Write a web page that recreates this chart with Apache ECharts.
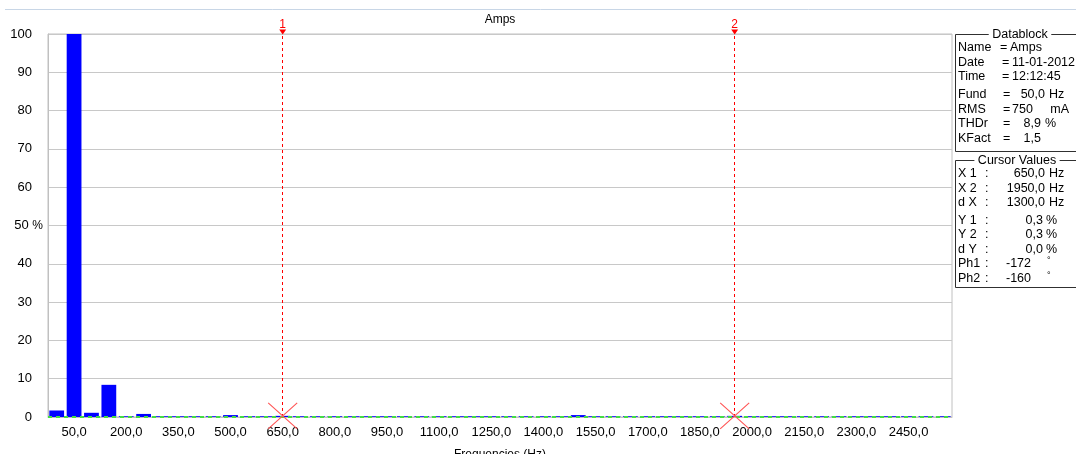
<!DOCTYPE html>
<html><head><meta charset="utf-8">
<script src="https://cdn.jsdelivr.net/npm/echarts@6/dist/echarts.min.js"></script>
<style>html,body{margin:0;padding:0;background:#fff;overflow:hidden}#c{width:1076px;height:454px}</style>
</head><body><div id="c"></div>
<script>
// ---- data ----
const frequencies = ['0,0','50,0','100,0','150,0','200,0','250,0','300,0','350,0','400,0','450,0',
  '500,0','550,0','600,0','650,0','700,0','750,0','800,0','850,0','900,0','950,0',
  '1000,0','1050,0','1100,0','1150,0','1200,0','1250,0','1300,0','1350,0','1400,0','1450,0',
  '1500,0','1550,0','1600,0','1650,0','1700,0','1750,0','1800,0','1850,0','1900,0','1950,0',
  '2000,0','2050,0','2100,0','2150,0','2200,0','2250,0','2300,0','2350,0','2400,0','2450,0',
  '2500,0','2550,0'];
const amplitudes = [1.7,100,1.1,8.4,0.2,0.8,0.2,0.2,0.2,0.2,
  0.5,0.2,0.2,0.3,0.2,0.2,0.2,0.2,0.2,0.2,
  0.2,0.2,0.2,0.2,0.2,0.2,0.2,0.2,0.2,0.2,
  0.5,0.2,0.2,0.2,0.2,0.2,0.2,0.2,0.2,0.3,
  0.2,0.2,0.2,0.2,0.2,0.2,0.2,0.2,0.2,0.2,
  0.2,0.2];
const cursorNames = ['1','2'];
const cursorFreqs = ['650,0','1950,0'];
const cursorValues = [0.3, 0.3];
const chartTitle = 'Amps';
const xAxisName = 'Frequencies (Hz)';
const datablockTitle = 'Datablock';
const datablockRows = [
  ['Name','Amps',''],
  ['Date','11-01-2012',''],
  ['Time','12:12:45',''],
  ['Fund','50,0','Hz'],
  ['RMS','750     mA',''],
  ['THDr','8,9','%'],
  ['KFact','1,5',' ']
];
const cursorTitle = 'Cursor Values';
const cursorRows = [
  ['X 1','650,0','Hz'],
  ['X 2','1950,0','Hz'],
  ['d X','1300,0','Hz'],
  ['Y 1','0,3','%'],
  ['Y 2','0,3','%'],
  ['d Y','0,0','%'],
  ['Ph1','-172','°'],
  ['Ph2','-160','°']
];

// ---- styling / layout ----
const FONT = "'Liberation Sans', Arial, sans-serif";
const RED = '#ff0000';
const graphics = [];
graphics.push({type:'line', shape:{x1:5,y1:9.5,x2:1076,y2:9.5}, style:{stroke:'#c8d6e6', lineWidth:1}, silent:true});
graphics.push({type:'text', style:{text:chartTitle, x:500, y:20, align:'center', verticalAlign:'middle', font:'12px '+FONT, fill:'#000'}});

function box(y, h, title, titleX) {
  graphics.push({type:'rect', shape:{x:955.5, y:y+0.5, width:130, height:h}, style:{fill:'none', stroke:'#303030', lineWidth:1}, silent:true});
  graphics.push({type:'text', style:{text:' '+title+' ', x:titleX, y:y+0.5, align:'center', verticalAlign:'middle', font:'12.5px '+FONT, fill:'#000', backgroundColor:'#fff'}});
}
box(34, 117, datablockTitle, 1020);
box(160, 127, cursorTitle, 1017);

const TF = '12.5px ' + FONT;
const dbY = [48, 63, 77, 95, 110, 124, 139];
datablockRows.forEach((r, i) => {
  const y = dbY[i];
  graphics.push({type:'text', style:{text:r[0], x:958, y, verticalAlign:'middle', font:TF, fill:'#000'}});
  graphics.push({type:'text', style:{text:'=', x:i===0?1000:(i<3?1002:1003), y, verticalAlign:'middle', font:TF, fill:'#000'}});
  if (r[2]) {
    graphics.push({type:'text', style:{text:r[1], x:r[2]==='Hz'?1045:1041, y, align:'right', verticalAlign:'middle', font:TF, fill:'#000'}});
    graphics.push({type:'text', style:{text:r[2], x:r[2]==='Hz'?1049:1045, y, verticalAlign:'middle', font:TF, fill:'#000'}});
  } else {
    graphics.push({type:'text', style:{text:r[1], x:i===0?1010:1012, y, verticalAlign:'middle', font:TF, fill:'#000'}});
  }
});
const cvY = [174, 189, 203, 221, 235, 250, 264, 279];
cursorRows.forEach((r, i) => {
  const y = cvY[i];
  graphics.push({type:'text', style:{text:r[0], x:958, y, verticalAlign:'middle', font:TF, fill:'#000'}});
  graphics.push({type:'text', style:{text:':', x:985, y, verticalAlign:'middle', font:TF, fill:'#000'}});
  const deg = r[2] === '°';
  graphics.push({type:'text', style:{text:r[1], x:deg?1031:(r[2]==='%'?1043:1045), y, align:'right', verticalAlign:'middle', font:TF, fill:'#000'}});
  graphics.push({type:'text', style:{text:r[2], x:deg?1047:(r[2]==='%'?1046:1049), y:deg?y-3:y, verticalAlign:'middle', font:(deg?'9px ':'12.5px ')+FONT, fill:'#000'}});
});

// markers built from the cursor arrays
const cursorLines = cursorFreqs.map((f, i) => ({
  xAxis: f,
  lineStyle: {color: RED, type: [3, 3], width: 1},
  label: {show: true, position: 'end', formatter: cursorNames[i], color: RED, fontSize: 12, fontFamily: FONT, distance: 3}
}));
const cursorPoints = [];
cursorFreqs.forEach((f, i) => {
  cursorPoints.push({coord: [f, 100], symbol: 'triangle', symbolRotate: 180, symbolSize: [7, 5], symbolOffset: [0, -2],
    itemStyle: {color: RED}, label: {show: false}});
  cursorPoints.push({coord: [f, cursorValues[i]], symbol: 'path://M0 0L20 20M20 0L0 20', symbolSize: [29, 26],
    itemStyle: {color: 'none', borderColor: '#ff5555', borderWidth: 1}, label: {show: false}});
});

const chart = echarts.init(document.getElementById('c'), null, {renderer: 'canvas'});
chart.setOption({
  animation: false,
  backgroundColor: '#fff',
  grid: {left: 48, right: 124, top: 34, bottom: 37, outerBoundsMode: 'none', containLabel: false,
    show: true, borderColor: '#c0c0c0', borderWidth: 1, backgroundColor: '#fff'},
  xAxis: {
    type: 'category', data: frequencies,
    name: xAxisName, nameLocation: 'middle', nameGap: 32,
    nameTextStyle: {fontFamily: FONT, fontSize: 12, color: '#000'},
    axisLine: {show: true, lineStyle: {color: '#c0c0c0'}},
    axisTick: {show: false},
    axisLabel: {interval: (i) => i % 3 === 1, fontFamily: FONT, fontSize: 13, color: '#000', margin: 9},
    splitLine: {show: false}
  },
  yAxis: {
    type: 'value', min: 0, max: 100, interval: 10,
    axisLine: {show: true, lineStyle: {color: '#c0c0c0'}},
    axisTick: {show: false},
    splitLine: {show: true, lineStyle: {color: '#c8c8c8', width: 1}},
    axisLabel: {
      margin: 5, fontFamily: FONT, fontSize: 13, color: '#000',
      formatter: (v) => v === 50 ? '50 {p|%}' : v + '{u|}',
      rich: {u: {width: 11}, p: {fontFamily: FONT, fontSize: 12, color: '#000'}}
    }
  },
  series: [{
    type: 'bar', data: amplitudes, barCategoryGap: '15%',
    itemStyle: {color: '#0000ff'},
    markLine: {
      silent: true, symbol: ['none', 'none'], animation: false,
      data: cursorLines.concat([{yAxis: 0, lineStyle: {color: '#44dd44', type: [4, 4], width: 2}, label: {show: false}}])
    },
    markPoint: {silent: true, animation: false, data: cursorPoints}
  }],
  graphic: graphics
});
</script>
</body></html>
